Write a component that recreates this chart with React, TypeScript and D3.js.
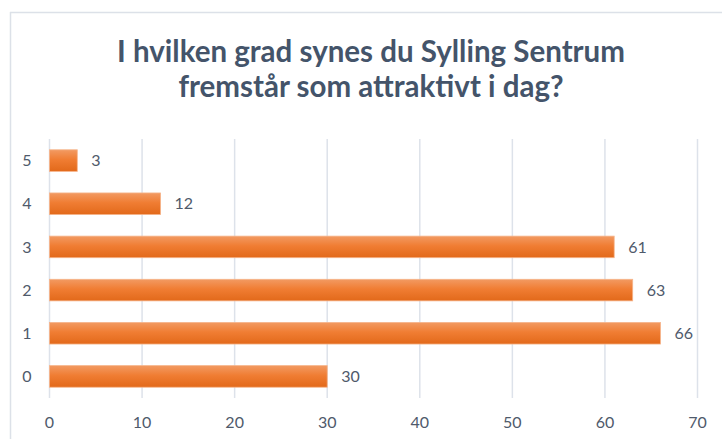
import React from "react";
import * as d3 from "d3";

const categories = ["5", "4", "3", "2", "1", "0"];
const values = [3, 12, 61, 63, 66, 30];
const xTicks = [0, 10, 20, 30, 40, 50, 60, 70];
const titleLines = ["I hvilken grad synes du Sylling Sentrum", "fremstår som attraktivt i dag?"];

const W = 722;
const H = 439;
const FONT = "Lato, 'Open Sans', sans-serif";

export default function App() {
  const x = d3.scaleLinear().domain([0, 70]).range([49.5, 697.5]);
  const y = d3
    .scaleBand<string>()
    .domain(categories)
    .range([139, 398])
    .paddingInner(0.5)
    .paddingOuter(0.25);

  const labelColor = "#4F5A6B";

  return (
    <svg
      width={W}
      height={H}
      style={{ position: "absolute", left: 0, top: 0, background: "#fff" }}
    >
      <defs>
        <linearGradient id="barGrad" x1="0" y1="0" x2="0" y2="1">
          <stop offset="0%" stopColor="#F29A62" />
          <stop offset="45%" stopColor="#F07D33" />
          <stop offset="100%" stopColor="#E2691A" />
        </linearGradient>
      </defs>
      <rect x={0} y={0} width={W} height={H} fill="#fff" />
      <line x1={10} x2={W} y1={12.5} y2={12.5} stroke="#DCE1E8" strokeWidth={1.5} />
      <line x1={10.5} x2={10.5} y1={12} y2={H} stroke="#DCE1E8" strokeWidth={1.5} />

      {titleLines.map((t, i) => (
        <text
          key={i}
          x={371}
          y={62 + i * 34.5}
          textAnchor="middle"
          fontFamily={FONT}
          fontWeight={700}
          fontSize={29.5}
          fill="#44546A"
        >
          {t}
        </text>
      ))}

      {xTicks.map((t) => (
        <g key={t}>
          <line
            x1={x(t)}
            x2={x(t)}
            y1={139}
            y2={398}
            stroke="#DDE2EA"
            strokeWidth={1.5}
          />
          <text
            x={x(t)}
            y={428}
            textAnchor="middle"
            fontFamily={FONT}
            fontSize={16}
            fill={labelColor}
          >
            {t}
          </text>
        </g>
      ))}

      {categories.map((c, i) => {
        const by = y(c)!;
        const bh = y.bandwidth();
        return (
          <g key={c}>
            <rect
              x={x(0)}
              y={by}
              width={x(values[i]) - x(0)}
              height={bh}
              fill="url(#barGrad)"
              stroke="#F6B48A"
              strokeWidth={0.8}
            />
            <text
              x={27}
              y={by + bh / 2}
              dy="0.35em"
              textAnchor="middle"
              fontFamily={FONT}
              fontSize={16}
              fill={labelColor}
            >
              {c}
            </text>
            <text
              x={x(values[i]) + 14}
              y={by + bh / 2}
              dy="0.35em"
              fontFamily={FONT}
              fontSize={16}
              fill={labelColor}
            >
              {values[i]}
            </text>
          </g>
        );
      })}
    </svg>
  );
}
